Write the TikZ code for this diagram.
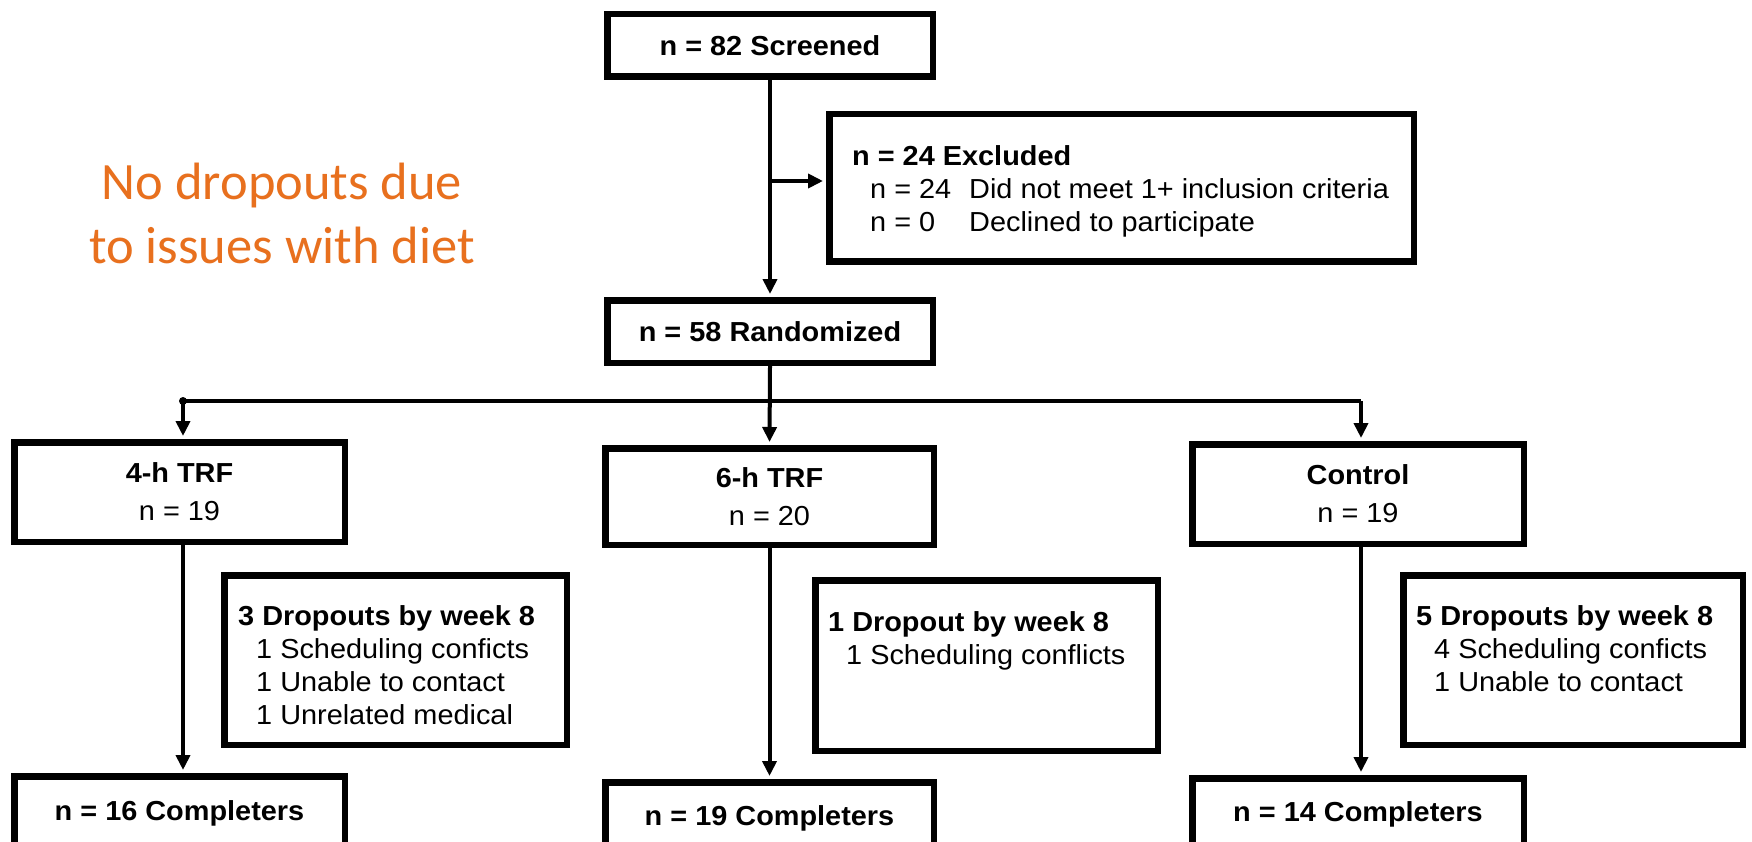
\documentclass[tikz,border=0pt]{standalone}
\usepackage{fontspec}
\setmainfont{Liberation Sans}[FakeStretch=1.05]
\newfontfamily\calfont{Carlito}
\usetikzlibrary{arrows.meta}
\definecolor{orng}{RGB}{232,112,30}
\newcommand\mainsz{\fontsize{27.5}{33}\selectfont}
\newcommand\grpsz{\fontsize{27.5}{38}\selectfont}
\newcommand\ind{\hspace*{18pt}}
\begin{document}
\begin{tikzpicture}[x=1pt,y=-1pt,
  box/.style={draw, line width=6.5pt, rectangle, inner sep=0pt, align=center, font=\mainsz},
  boxtext/.style={anchor=north west, inner sep=0pt, align=left, font=\mainsz},
  conn/.style={line width=4pt},
  arr/.style={conn, -{Triangle[length=15pt,width=14pt]}, shorten >=3pt},
  note/.style={text=orng, font=\calfont\fontsize{52.5}{64}\selectfont, align=center, inner sep=0pt}
]
\useasboundingbox (0,0) rectangle (1752,842);
\fill[white] (0,0) rectangle (1752,842);

% boxes
\node[box, minimum width=325.5pt, minimum height=62.5pt, font=\mainsz\bfseries] (scr) at (770,45.5) {n = 82 Screened};
\node[box, minimum width=584.5pt, minimum height=147.5pt] (exc) at (1121.5,188) {};
\node[boxtext] (exct) at (852,145) {\textbf{n = 24 Excluded}\\
  \ind\makebox[99pt][l]{n = 24}Did not meet 1+ inclusion criteria\\
  \ind\makebox[99pt][l]{n = 0}Declined to participate};
\node[box, minimum width=325.5pt, minimum height=62.5pt, font=\mainsz\bfseries] (rand) at (770,331.5) {n = 58 Randomized};

\node[box, minimum width=330.5pt, minimum height=99.5pt, font=\grpsz] (trf4) at (179.5,492) {\textbf{4-h TRF}\\n = 19};
\node[box, minimum width=328.5pt, minimum height=96.5pt, font=\grpsz] (trf6) at (769.5,496.5) {\textbf{6-h TRF}\\n = 20};
\node[box, minimum width=331.5pt, minimum height=99.5pt, font=\grpsz] (ctl) at (1358,494) {\textbf{Control}\\n = 19};

\node[box, minimum width=342.5pt, minimum height=169.5pt] (d1) at (395.5,660) {};
\node[boxtext] (d1t) at (238,605) {\textbf{3 Dropouts by week 8}\\
  \ind 1 Scheduling conficts\\
  \ind 1 Unable to contact\\
  \ind 1 Unrelated medical};
\node[box, minimum width=342.5pt, minimum height=170.5pt] (d2) at (986.5,665.5) {};
\node[boxtext] (d2t) at (828,611) {\textbf{1 Dropout by week 8}\\
  \ind 1 Scheduling conflicts};
\node[box, minimum width=339.5pt, minimum height=169.5pt] (d3) at (1573,660) {};
\node[boxtext] (d3t) at (1416,605) {\textbf{5 Dropouts by week 8}\\
  \ind 4 Scheduling conficts\\
  \ind 1 Unable to contact};

\node[box, minimum width=330.5pt, minimum height=73.5pt, font=\mainsz\bfseries] (c1) at (179.5,813) {n = 16 Completers};
\node[box, minimum width=328.5pt, minimum height=71.5pt, font=\mainsz\bfseries] (c2) at (769.5,818) {n = 19 Completers};
\node[box, minimum width=331.5pt, minimum height=71.5pt, font=\mainsz\bfseries] (c3) at (1358,814) {n = 14 Completers};

% orange note
\node[note] (nt) at (282,213) {No dropouts due\\to issues with diet};

% connectors
\coordinate (b1) at (770,181);
\coordinate (jl) at (183,401);
\coordinate (jr) at (1361,401);
\draw[arr] (scr.south) -- (rand.north);
\draw[arr] (b1) -- (b1 -| exc.west);
\draw[arr] (rand.south) -- (trf6.north);
\draw[conn] (jl) -- (jr);
\fill (jl) circle (4pt);
\draw[arr] (jl) -- (jl |- trf4.north);
\draw[arr] (jr) -- (jr |- ctl.north);
\draw[arr] (jl |- trf4.south) -- (jl |- c1.north);
\draw[arr] (trf6.south) -- (c2.north);
\draw[arr] (jr |- ctl.south) -- (jr |- c3.north);
\end{tikzpicture}
\end{document}
